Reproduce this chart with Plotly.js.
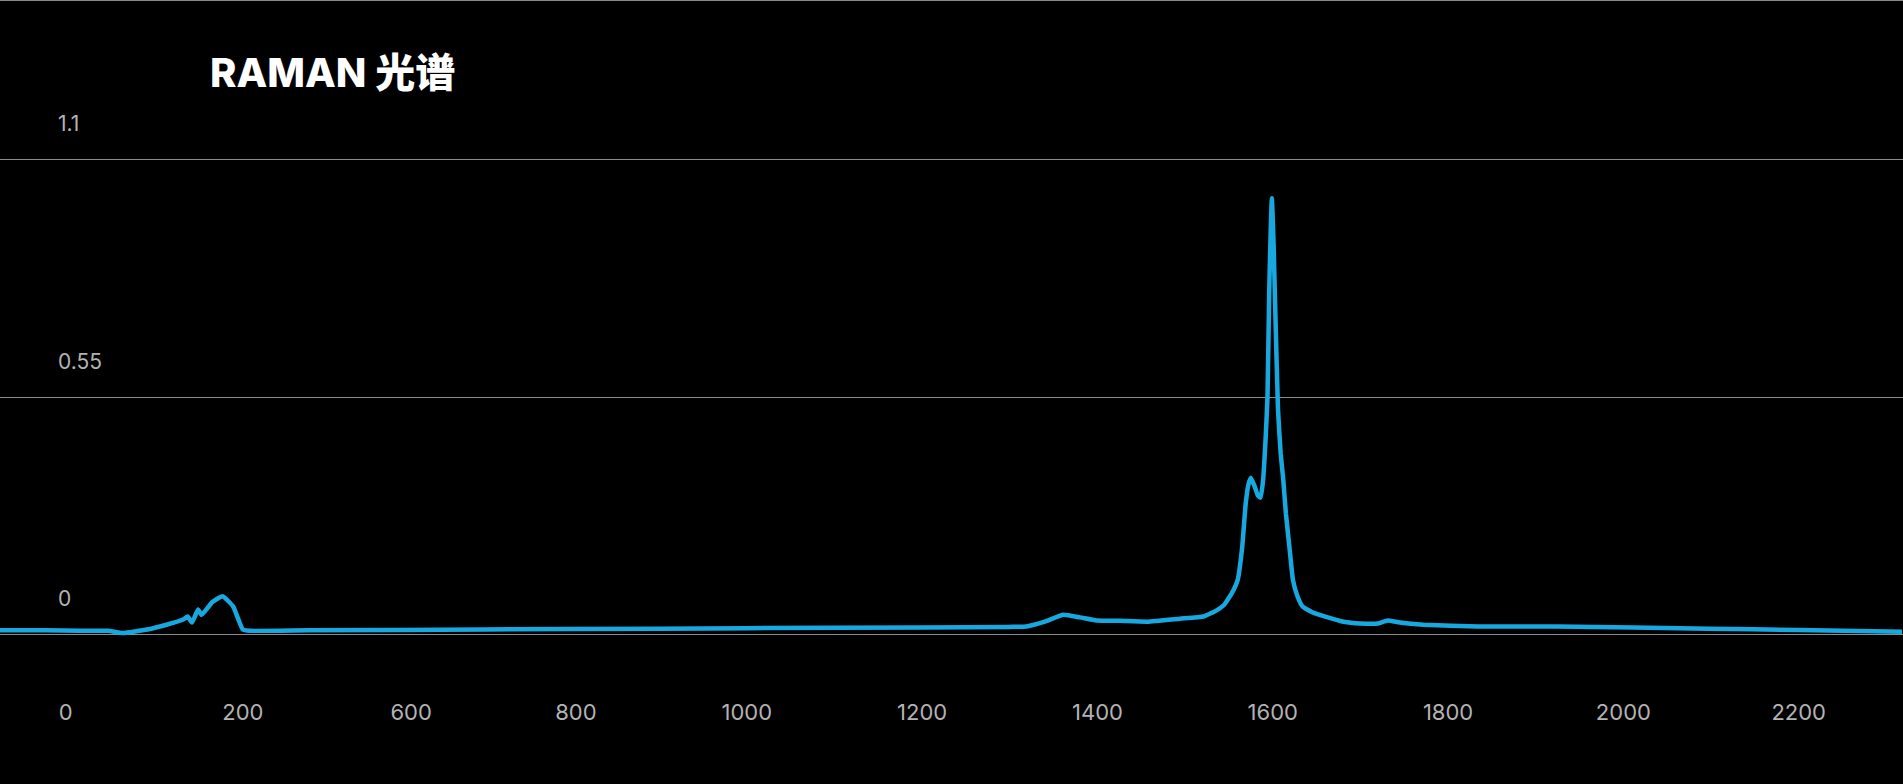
<!DOCTYPE html>
<html>
<head>
<meta charset="utf-8">
<script src="https://cdn.plot.ly/plotly-3.0.1.min.js"></script>
<style>
  html, body { margin: 0; padding: 0; background: #000; }
  #chart { width: 1903px; height: 784px; }
  body::before { content: ""; position: fixed; left: 0; top: 0; width: 100%; height: 1px; background: #8a8a8a; z-index: 10; }
</style>
</head>
<body>
<div id="chart"></div>
<script>
// Raman shift (cm^-1)
const wavenumber = [148, 200, 239, 271, 288, 316, 338, 357, 362, 367, 374, 378, 390, 402, 414, 425, 433,
  500, 700, 900, 1100, 1300, 1319, 1340, 1361, 1380, 1399, 1426, 1457, 1494, 1521, 1535, 1544, 1553,
  1560, 1565, 1569, 1572, 1575, 1579, 1583, 1586, 1589, 1592, 1594, 1596, 1598, 1599, 1601, 1603, 1606,
  1609, 1612, 1615, 1619, 1623, 1628, 1634, 1645, 1660, 1681, 1700, 1720, 1731, 1745, 1772, 1834,
  1925, 2098, 2200, 2318];
// Intensity
const intensity = [0.010, 0.010, 0.009, 0.009, 0.004, 0.012, 0.023, 0.035, 0.042, 0.028, 0.058, 0.046, 0.075, 0.089, 0.065, 0.012, 0.009,
  0.010, 0.012, 0.014, 0.016, 0.018, 0.019, 0.030, 0.046, 0.040, 0.033, 0.032, 0.030, 0.037, 0.042, 0.055, 0.068, 0.095,
  0.127, 0.200, 0.300, 0.345, 0.363, 0.345, 0.322, 0.317, 0.358, 0.460, 0.550, 0.800, 0.960, 1.010, 0.900, 0.740, 0.520,
  0.420, 0.358, 0.280, 0.203, 0.127, 0.090, 0.065, 0.052, 0.042, 0.030, 0.026, 0.026, 0.033, 0.028, 0.023, 0.019,
  0.019, 0.014, 0.011, 0.007];

// Axis ticks as they appear in the picture
const xTickVals = [223, 425, 617, 805, 1000, 1200, 1400, 1600, 1800, 2000, 2200];
const xTickText = ['0', '200', '600', '800', '1000', '1200', '1400', '1600', '1800', '2000', '2200'];
const yTickVals = [0, 0.55, 1.1];
const yTickText = ['0', '0.55', '1.1'];

const trace = {
  x: wavenumber,
  y: intensity,
  type: 'scatter',
  mode: 'lines',
  line: { color: '#18a8e0', width: 4.5, shape: 'spline', smoothing: 0.4 },
  hoverinfo: 'x+y'
};

const layout = {
  width: 1903,
  height: 784,
  paper_bgcolor: '#000',
  plot_bgcolor: '#000',
  margin: { l: 0, r: 0, t: 155, b: 145 },
  showlegend: false,
  font: { family: 'Inter, "Noto Sans CJK SC", sans-serif', color: '#b3b3b3' },
  title: {
    text: 'RAMAN 光谱',
    font: { family: 'Inter, "Noto Sans CJK SC", sans-serif', size: 40, color: '#ffffff', weight: 800 },
    x: 0.1104, xref: 'container', xanchor: 'left',
    y: 0.907, yref: 'container', yanchor: 'middle'
  },
  xaxis: {
    type: 'linear',
    range: [148, 2319],
    showgrid: false,
    zeroline: false,
    showline: false,
    ticks: '',
    tickmode: 'array',
    tickvals: xTickVals,
    ticktext: xTickText,
    tickfont: { size: 22, color: '#b3b3b3' },
    ticklabelstandoff: 58,
    ticklabeloverflow: 'allow'
  },
  yaxis: {
    range: [-0.01, 1.11],
    showgrid: true,
    gridcolor: '#8c8c8c',
    gridwidth: 1,
    zeroline: false,
    showline: false,
    ticks: '',
    tickmode: 'array',
    tickvals: yTickVals,
    ticktext: yTickText,
    ticklabelposition: 'inside top',
    ticklabelstandoff: 55,
    ticklabelshift: -21,
    ticklabeloverflow: 'allow',
    tickfont: { size: 21, color: '#b3b3b3' }
  }
};

Plotly.newPlot('chart', [trace], layout, { displayModeBar: false, staticPlot: true });
</script>
</body>
</html>
